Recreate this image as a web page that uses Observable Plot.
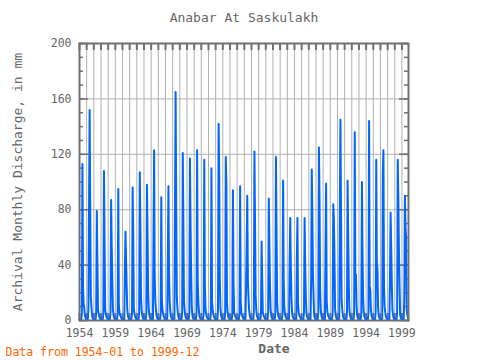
<!DOCTYPE html>
<html><head><meta charset="utf-8">
<script src="https://cdn.jsdelivr.net/npm/d3@7"></script>
<script src="https://cdn.jsdelivr.net/npm/@observablehq/plot@0.6"></script>
<style>body{margin:0;background:#fff} svg{font-family:"DejaVu Sans Mono",monospace}</style>
</head><body><div id="chart"></div>
<script>
const startYear = 1954;
// Monthly discharge (Jan..Dec) per year
const flows1950s = [
  [1,1,1,1,5,113,23,12,9,4,2,1],      // 1954
  [1,1,1,8,80,152,84,17,10,4,2,1],    // 1955
  [1,1,1,1,6,79,43,8,5,3,2,1],        // 1956
  [1,1,1,1,5,108,58,8,5,3,2,1],       // 1957
  [1,1,1,1,6,87,54,28,8,4,2,1],       // 1958
  [1,1,1,1,5,95,10,6,4,3,2,1]         // 1959
];
const flows1960s = [
  [1,1,1,1,35,64,45,25,8,4,2,1],      // 1960
  [1,1,1,1,5,96,63,8,5,3,2,1],        // 1961
  [1,1,1,1,6,107,68,17,8,4,2,1],      // 1962
  [1,1,1,1,5,98,63,21,8,4,2,1],       // 1963
  [1,1,1,1,61,123,30,14,8,4,2,1],     // 1964
  [1,1,1,1,5,89,15,8,5,3,2,1],        // 1965
  [1,1,1,1,48,97,33,14,7,3,2,1],      // 1966
  [1,1,1,1,83,165,83,17,9,4,2,1],     // 1967
  [1,1,1,1,6,121,71,14,8,4,2,1],      // 1968
  [1,1,1,1,6,117,70,35,10,4,2,1]      // 1969
];
const flows1970s = [
  [1,1,1,1,6,123,29,14,7,3,2,1],      // 1970
  [1,1,1,1,5,116,26,9,5,3,2,1],       // 1971
  [1,1,1,1,5,110,14,8,5,3,2,1],       // 1972
  [1,1,1,1,8,142,107,29,9,4,2,1],     // 1973
  [1,1,1,1,6,118,99,14,6,3,2,1],      // 1974
  [1,1,1,1,5,94,28,6,4,3,2,1],        // 1975
  [1,1,1,1,5,97,14,6,4,3,2,1],        // 1976
  [1,1,1,25,57,90,29,17,8,4,2,1],     // 1977
  [1,1,1,1,6,122,71,18,8,4,2,1],      // 1978
  [1,1,1,1,5,57,31,6,4,3,2,1]         // 1979
];
const flows1980s = [
  [1,1,1,1,6,88,57,24,8,4,2,1],       // 1980
  [1,1,1,1,6,118,67,13,6,3,2,1],      // 1981
  [1,1,1,1,5,101,29,10,5,3,2,1],      // 1982
  [1,1,1,1,45,74,38,16,6,3,2,1],      // 1983
  [1,1,1,1,45,74,12,6,4,3,2,1],       // 1984
  [1,1,1,1,6,74,41,17,6,3,2,1],       // 1985
  [1,1,1,1,30,109,77,33,17,4,2,1],    // 1986
  [1,1,1,1,6,125,89,23,8,4,2,1],      // 1987
  [1,1,1,1,50,99,14,7,4,3,2,1],       // 1988
  [1,1,1,1,6,84,74,47,8,4,2,1]        // 1989
];
const flows1990s = [
  [1,1,1,1,79,145,81,15,8,4,2,1],     // 1990
  [1,1,1,1,6,101,63,25,8,4,2,1],      // 1991
  [1,1,1,1,6,136,25,33,10,4,2,1],     // 1992
  [1,1,1,1,6,100,49,16,6,3,2,1],      // 1993
  [1,1,1,1,6,144,25,22,8,4,2,1],      // 1994
  [1,1,1,1,6,116,42,37,10,4,2,1],     // 1995
  [1,1,1,1,107,123,24,10,6,3,2,1],    // 1996
  [1,1,1,1,30,78,55,28,8,4,2,1],      // 1997
  [1,1,1,1,6,116,88,50,25,4,2,1],     // 1998
  [1,1,1,1,17,90,67,60,8,4,2,0]       // 1999
];
const yTicks = [0, 40, 80, 120, 160, 200];
const xTickYears = [1954, 1959, 1964, 1969, 1974, 1979, 1984, 1989, 1994, 1999];
const titleText = "Anabar At Saskulakh";
const yLabel = "Archival Monthly Discharge, in mm";
const xLabel = "Date";
const caption = "Data from 1954-01 to 1999-12";

const allFlows = [...flows1950s, ...flows1960s, ...flows1970s, ...flows1980s, ...flows1990s];
const rows = [];
allFlows.forEach((yr, i) => yr.forEach((v, m) => rows.push({date: new Date(Date.UTC(startYear + i, m, 1)), value: v})));
const yearDates = d3.range(1954, 2000).map(y => new Date(Date.UTC(y, 0, 1)));
const gridYears = yearDates.slice(1);
const minorY = d3.range(0, 201, 10);
const majorY = yTicks;

const W = 480, H = 360, mL = 79, mR = 72, mT = 43, mB = 40;
const pw = W - mL - mR, ph = H - mT - mB;
const grey = "#707070", txt = "#666666";

const chart = Plot.plot({
  width: W, height: H,
  marginLeft: mL, marginRight: mR, marginTop: mT, marginBottom: mB,
  style: {fontFamily: "DejaVu Sans Mono, monospace", background: "#fff"},
  x: {type: "utc", domain: [new Date(Date.UTC(1954, 0, 1)), new Date(Date.UTC(1999, 11, 1))], axis: null},
  y: {domain: [0, 200], axis: null},
  marks: [
    Plot.gridX(gridYears, {stroke: "#b0b0b0", strokeOpacity: 1, strokeWidth: 1}),
    Plot.gridY([40, 80, 120, 160], {stroke: "#b0b0b0", strokeOpacity: 1, strokeWidth: 1}),
    Plot.tickX(yearDates, {x: d => d, insetBottom: ph - 7, stroke: grey, strokeWidth: 2}),
    Plot.tickX(yearDates, {x: d => d, insetTop: ph - 7, stroke: grey, strokeWidth: 2}),
    Plot.tickY(minorY, {y: d => d, insetRight: pw - 4, stroke: grey, strokeWidth: 1.5}),
    Plot.tickY(minorY, {y: d => d, insetLeft: pw - 4, stroke: grey, strokeWidth: 1.5}),
    Plot.tickY(majorY, {y: d => d, insetRight: pw - 9, stroke: grey, strokeWidth: 1.5}),
    Plot.tickY(majorY, {y: d => d, insetLeft: pw - 9, stroke: grey, strokeWidth: 1.5}),
    Plot.line(rows, {x: "date", y: "value", stroke: "#0066ff", strokeWidth: 2}),
    Plot.dot(rows, {x: "date", y: "value", symbol: "plus", r: 2, fill: "#0066ff", stroke: "none"}),
    Plot.frame({stroke: grey, strokeWidth: 2}),
    Plot.text(xTickYears, {x: d => new Date(Date.UTC(d, 0, 1)), frameAnchor: "bottom", dy: 13, text: d => String(d), fontSize: 11.5, fill: txt, lineAnchor: "middle"}),
    Plot.text(yTicks, {y: d => d, frameAnchor: "left", dx: -8, textAnchor: "end", text: d => String(d), fontSize: 11.5, fill: txt, lineAnchor: "middle"}),
    Plot.text([titleText], {frameAnchor: "top", dy: -26, text: d => d, fontSize: 13, fill: txt, lineAnchor: "middle"}),
    Plot.text([yLabel], {frameAnchor: "left", dx: -62, rotate: -90, textAnchor: "middle", text: d => d, fontSize: 13, fill: txt, lineAnchor: "middle"}),
    Plot.text([xLabel], {frameAnchor: "bottom", dx: 30, dy: 28, text: d => d, fontSize: 13, fontWeight: "bold", fill: txt, lineAnchor: "middle"}),
    Plot.text([caption], {frameAnchor: "bottom-left", dx: -74, dy: 32, textAnchor: "start", text: d => d, fontSize: 11.5, fill: "#ff6600", lineAnchor: "middle"})
  ]
});
document.getElementById("chart").appendChild(chart);
</script>
</body></html>
